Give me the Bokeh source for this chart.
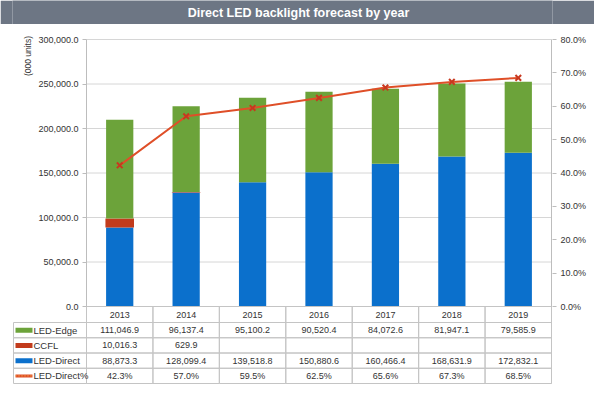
from bokeh.plotting import figure
from bokeh.models import Range1d, LinearAxis, FixedTicker, NumeralTickFormatter
from bokeh.layouts import column
from bokeh.embed import file_html
from bokeh.resources import INLINE
from bokeh.core.properties import value
import numpy as np

# ---------------- data ----------------
title_text = "Direct LED backlight forecast by year"
years = ["2013", "2014", "2015", "2016", "2017", "2018", "2019"]
led_edge = [111046.9, 96137.4, 95100.2, 90520.4, 84072.6, 81947.1, 79585.9]
ccfl = [10016.3, 629.9, None, None, None, None, None]
led_direct = [88873.3, 128099.4, 139518.8, 150880.6, 160466.4, 168631.9, 172832.1]
led_direct_pct = [42.3, 57.0, 59.5, 62.5, 65.6, 67.3, 68.5]
series_names = ["LED-Edge", "CCFL", "LED-Direct", "LED-Direct%"]
left_ticks = [0, 50000, 100000, 150000, 200000, 250000, 300000]
right_ticks = [0, 10, 20, 30, 40, 50, 60, 70, 80]
y_label = "(000 units)"

# ---------------- style / layout ----------------
FONT = "Liberation Sans"
GREEN = "#6ca33a"
RED = "#c23b1c"
BLUE = "#0b70cc"
LINE = "#df4f28"
MARK = "#c8381f"
GRID = "#d6d6d6"
AX = "#bdbdbd"
CELL = "#c4c4c4"
TXT = "#333333"
TITLE_BG = "#6d7684"

OFF = 2                   # observed page offset of the layout
ML, MR = 12, 42           # borders -> frame from page x 14 to 554
FW = 540
CHART_W = 465             # width of the bar area (page 88..553)
HDR = 73                  # width of the table's header column
CH = 267                  # chart height (px)
TOP = 9                   # free space above the chart inside the frame
YEAR_H = 16
ROW_H = 15.25
BELOW = YEAR_H + 4 * ROW_H + 1
FH = int(round(CH + BELOW + TOP))

n = len(years)
x = np.arange(n)
col_px = CHART_W / n
xs = -0.5 - (HDR + 1) / col_px            # frame left
xe = xs + FW / col_px                     # frame right
xh = -0.5 - HDR / col_px                  # header column left

ymax = left_ticks[-1]
pmax = right_ticks[-1] / 100

# ---------------- title bar ----------------
tf = figure(frame_width=FW, height=24, min_border_left=ML, min_border_right=MR,
            min_border_top=0, min_border_bottom=0,
            x_range=Range1d(OFF + ML, OFF + ML + FW), y_range=Range1d(-1, 1),
            x_axis_type=None, y_axis_type=None,
            background_fill_color=TITLE_BG, border_fill_color=TITLE_BG, outline_line_color=None,
            output_backend="svg", toolbar_location=None, tools="")
tf.grid.visible = False
tf.text(x=[300], y=[0], text=[title_text], text_align="center", text_baseline="middle",
        text_color="white", text_font=value(FONT), text_font_style="bold", text_font_size="12.5px")

# ---------------- chart + table in one frame ----------------
p = figure(frame_width=FW, frame_height=FH, min_border_left=ML, min_border_right=MR,
           min_border_top=15 - TOP, min_border_bottom=4,
           x_range=Range1d(xs, xe),
           y_range=Range1d(-ymax * BELOW / CH, ymax * (1 + TOP / CH)),
           x_axis_type=None,
           output_backend="svg", toolbar_location=None, tools="",
           outline_line_color=None, background_fill_color="white", border_fill_color="white")
p.extra_y_ranges = {"pct": Range1d(-pmax * BELOW / CH, pmax * (1 + TOP / CH)),
                    "tbl": Range1d(-1, FH - 1)}
p.ygrid.visible = False

# gridlines of the chart area
p.segment(x0=[-0.5] * len(left_ticks), x1=[n - 0.5] * len(left_ticks), y0=left_ticks, y1=left_ticks,
          line_color=GRID, line_width=1)

# bars
direct = np.array(led_direct)
cc = np.array([c if c is not None else 0.0 for c in ccfl])
edge = np.array(led_edge)
p.vbar(x=x, bottom=0, top=direct, width=0.41, fill_color=BLUE, line_color=None)
p.vbar(x=x, bottom=direct, top=direct + cc, width=0.43, fill_color=RED, line_color=None)
p.vbar(x=x, bottom=direct + cc, top=direct + cc + edge, width=0.41, fill_color=GREEN, line_color=None)

# percentage line
pct = np.array(led_direct_pct) / 100.0
p.line(x, pct, y_range_name="pct", line_color=LINE, line_width=2)
p.scatter(x, pct, y_range_name="pct", marker="x", size=8, line_width=2, line_color=MARK)

# left axis, drawn at the left edge of the bar area
ya = p.yaxis[0]
ya.fixed_location = -0.5
ya.bounds = (0, ymax)
ya.ticker = FixedTicker(ticks=left_ticks)
ya.formatter = NumeralTickFormatter(format="0,0.0")
ya.axis_line_color = AX
ya.major_tick_line_color = AX
ya.major_tick_out = 4
ya.major_tick_in = 0
ya.minor_tick_line_color = None
ya.major_label_standoff = 4
ya.major_label_text_font = FONT
ya.major_label_text_font_size = "9px"
ya.major_label_text_color = TXT

# axis title, vertical, at the top
p.text(x=[xs + 15 / col_px], y=[ymax + 4000], text=[y_label], angle=np.pi / 2, text_align="right",
       text_baseline="middle", text_font=value(FONT), text_font_size="8.5px", text_color=TXT)

# right axis
ra = LinearAxis(y_range_name="pct", ticker=FixedTicker(ticks=[t / 100 for t in right_ticks]),
                formatter=NumeralTickFormatter(format="0.0%"), bounds=(0, pmax))
ra.axis_line_color = None
ra.major_tick_line_color = AX
ra.major_tick_out = 4
ra.major_tick_in = 0
ra.minor_tick_line_color = None
ra.major_label_standoff = 4
ra.major_label_text_font = FONT
ra.major_label_text_font_size = "9px"
ra.major_label_text_color = TXT
p.add_layout(ra, "right")

# right border of chart + table
p.segment(x0=[n - 0.5], x1=[n - 0.5], y0=[0], y1=[BELOW - 1 + CH], y_range_name="tbl", line_color=AX)

# ---------------- data table (below the zero line) ----------------
rows_y = [3.5 * ROW_H - r * ROW_H for r in range(4)]
year_y = 4 * ROW_H + YEAR_H / 2

# year row cells
p.rect(x=x, y=[year_y] * n, width=1, height=YEAR_H, y_range_name="tbl",
       fill_color=None, line_color=CELL)
# data cells
cx, cy = [], []
for ry in rows_y:
    for i in x:
        cx.append(i)
        cy.append(ry)
p.rect(x=cx, y=cy, width=1, height=ROW_H, y_range_name="tbl", fill_color=None, line_color=CELL)
# header cells
hw = HDR / col_px
p.rect(x=[xh + hw / 2] * 4, y=rows_y, width=hw, height=ROW_H, y_range_name="tbl",
       fill_color=None, line_color=CELL)

# year labels
p.text(x=x, y=[year_y] * n, text=years, y_range_name="tbl", text_align="center",
       text_baseline="middle", text_font=value(FONT), text_font_size="9px", text_color=TXT)

def fmt(v):
    return "" if v is None else f"{v:,.1f}"

vals = [[fmt(v) for v in led_edge], [fmt(v) for v in ccfl], [fmt(v) for v in led_direct],
        [f"{v:.1f}%" for v in led_direct_pct]]
tx, ty, tt = [], [], []
for r, row in enumerate(vals):
    for i, s in enumerate(row):
        if s:
            tx.append(i)
            ty.append(rows_y[r])
            tt.append(s)
p.text(x=tx, y=ty, text=tt, y_range_name="tbl", text_align="center", text_baseline="middle",
       text_font=value(FONT), text_font_size="9px", text_color=TXT)

# header labels + swatches
px = 1 / col_px
p.text(x=[xh + 20 * px] * 4, y=rows_y, text=series_names, y_range_name="tbl",
       text_align="left", text_baseline="middle",
       text_font=value(FONT), text_font_size="9.5px", text_color=TXT)
p.rect(x=[xh + 10.5 * px] * 3, y=rows_y[:3], width=17 * px, height=5, y_range_name="tbl",
       fill_color=[GREEN, RED, BLUE], line_color=None)
p.segment(x0=[xh + 2 * px], y0=[rows_y[3]], x1=[xh + 19 * px], y1=[rows_y[3]], y_range_name="tbl",
          line_color=LINE, line_width=3)
p.segment(x0=[xh + 2 * px], y0=[rows_y[3]], x1=[xh + 19 * px], y1=[rows_y[3]], y_range_name="tbl",
          line_color="#f2c04a", line_width=1, line_dash="1 2")

layout = column(tf, p, spacing=0)
open("out.html", "w").write(file_html(layout, INLINE))
